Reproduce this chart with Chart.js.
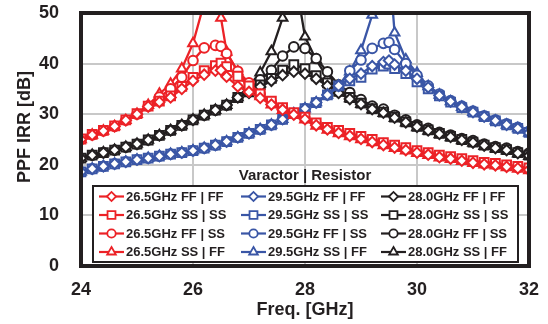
<!DOCTYPE html>
<html><head><meta charset="utf-8">
<script src="https://cdn.jsdelivr.net/npm/chart.js@4.4.1/dist/chart.umd.min.js"></script>
<style>html,body{margin:0;padding:0;background:#fff;}#wrap{width:548px;height:324px;}</style>
</head><body><div id="wrap"><canvas id="c" width="548" height="324"></canvas></div>
<script>
// ---------- DATA ----------
const freqRed   = [24.0,24.2,24.4,24.6,24.8,25.0,25.2,25.4,25.6,25.8,26.0,26.2,26.4,26.5,26.6,26.8,27.0,27.2,27.4,27.6,27.8,28.0,28.2,28.4,28.6,28.8,29.0,29.2,29.4,29.6,29.8,30.0,30.2,30.4,30.6,30.8,31.0,31.2,31.4,31.6,31.8,32.0];
const freqBlue  = [24.0,24.2,24.4,24.6,24.8,25.0,25.2,25.4,25.6,25.8,26.0,26.2,26.4,26.6,26.8,27.0,27.2,27.4,27.6,27.8,28.0,28.2,28.4,28.6,28.8,29.0,29.2,29.4,29.5,29.6,29.8,30.0,30.2,30.4,30.6,30.8,31.0,31.2,31.4,31.6,31.8,32.0];
const freqBlack = [24.0,24.2,24.4,24.6,24.8,25.0,25.2,25.4,25.6,25.8,26.0,26.2,26.4,26.6,26.8,27.0,27.2,27.4,27.6,27.8,28.0,28.2,28.4,28.6,28.8,29.0,29.2,29.4,29.6,29.8,30.0,30.2,30.4,30.6,30.8,31.0,31.2,31.4,31.6,31.8,32.0];

const red_FF_FF = [25.0,25.9,26.7,27.6,28.8,30.0,31.5,32.4,33.3,35.0,36.6,37.8,38.6,38.7,37.4,35.5,34.4,33.2,31.9,30.9,29.9,29.0,27.8,27.0,26.3,25.7,25.1,24.5,23.9,23.4,22.9,22.4,22.0,21.5,21.2,20.8,20.4,20.1,19.9,19.6,19.3,19.0];
const red_SS_SS = [25.1,26.0,26.8,27.7,28.9,30.1,31.6,32.6,33.6,35.5,37.3,38.6,39.6,40.1,39.4,37.5,35.6,34.0,32.6,31.3,30.3,29.4,28.3,27.4,26.8,26.2,25.6,25.0,24.4,23.9,23.4,22.8,22.4,21.9,21.6,21.2,20.8,20.5,20.3,20.0,19.7,19.4];
const red_FF_SS = [25.0,25.9,26.7,27.6,28.8,30.0,31.6,33.4,35.0,37.3,40.6,43.1,43.6,43.4,42.0,38.5,36.2,34.0,32.3,31.1,30.1,29.2,28.1,27.2,26.6,26.0,25.4,24.8,24.2,23.7,23.2,22.6,22.2,21.7,21.4,21.0,20.6,20.3,20.1,19.8,19.5,19.2];
const red_SS_FF = [25.0,25.9,26.7,27.6,28.8,30.0,31.8,34.0,36.0,39.0,44.0,52.0,56.0,49.0,42.3,38.4,35.6,33.5,31.9,30.8,29.8,28.9,27.7,26.9,26.2,25.6,25.0,24.4,23.8,23.3,22.8,22.3,21.9,21.4,21.1,20.7,20.3,20.0,19.8,19.5,19.2,18.9];

const blue_FF_FF = [18.6,19.2,19.7,20.2,20.6,21.0,21.3,21.7,22.1,22.4,22.8,23.3,23.9,24.6,25.4,26.2,27.0,27.9,29.0,30.1,31.1,32.3,33.8,35.6,37.0,38.0,39.5,40.3,40.6,39.8,38.6,37.0,35.3,33.7,32.5,31.4,30.4,29.5,28.7,27.9,27.2,26.3];
const blue_SS_SS = [18.6,19.2,19.7,20.2,20.6,21.0,21.3,21.7,22.1,22.4,22.8,23.3,23.9,24.6,25.4,26.2,27.0,27.9,29.0,30.1,31.1,32.3,33.8,35.6,36.6,37.3,38.9,39.5,39.9,39.0,38.0,36.4,35.0,33.6,32.4,31.3,30.4,29.5,28.7,27.9,27.2,26.4];
const blue_FF_SS = [18.6,19.2,19.7,20.2,20.6,21.0,21.3,21.7,22.1,22.4,22.8,23.3,23.9,24.6,25.4,26.2,27.0,27.9,29.0,30.1,31.1,32.3,33.8,35.6,38.6,40.7,43.0,44.0,44.2,42.8,40.0,37.7,35.6,34.0,32.7,31.6,30.6,29.7,28.9,28.1,27.4,26.6];
const blue_SS_FF = [18.6,19.2,19.7,20.2,20.6,21.0,21.3,21.7,22.1,22.4,22.8,23.3,23.9,24.6,25.4,26.2,27.0,27.9,29.0,30.1,31.1,32.3,33.8,35.6,38.4,42.6,49.6,58.0,60.0,46.1,40.8,38.1,35.5,33.8,32.5,31.4,30.4,29.5,28.7,27.9,27.2,26.3];

const black_FF_FF = [21.3,21.9,22.4,22.9,23.5,24.1,24.9,25.8,26.8,27.8,28.9,29.8,30.8,31.8,33.3,34.2,35.4,36.6,37.7,38.4,38.0,37.0,35.6,34.2,33.0,32.0,31.0,30.3,29.3,28.4,27.5,26.8,26.1,25.5,24.9,24.4,23.8,23.3,22.9,22.3,21.8];
const black_SS_SS = [21.3,21.9,22.4,22.9,23.5,24.1,24.9,25.8,26.8,27.8,28.9,29.8,30.8,31.8,33.3,34.4,35.8,37.1,38.7,39.8,39.0,37.6,36.2,34.5,33.3,32.2,31.1,30.4,29.4,28.5,27.6,26.9,26.2,25.6,25.0,24.5,23.9,23.4,23.0,22.4,21.9];
const black_FF_SS = [21.3,21.9,22.4,22.9,23.5,24.1,24.9,25.8,26.8,27.8,28.9,29.8,30.8,31.8,33.3,35.0,36.8,38.7,41.5,43.3,43.0,41.0,38.4,35.8,34.3,32.9,31.6,31.0,29.8,28.9,27.9,27.2,26.4,25.9,25.2,24.8,24.1,23.6,23.3,22.6,22.3];
const black_SS_FF = [21.3,21.9,22.4,22.9,23.5,24.1,24.9,25.8,26.8,27.8,28.9,29.8,30.8,31.8,33.3,35.6,38.2,42.4,49.0,58.5,45.3,40.7,37.2,34.8,33.1,32.0,30.9,30.2,29.2,28.3,27.4,26.7,26.0,25.4,24.8,24.3,23.7,23.2,22.8,22.2,21.7];

const seriesLabels = [
  '26.5GHz FF | FF','26.5GHz SS | SS','26.5GHz FF | SS','26.5GHz SS | FF',
  '29.5GHz FF | FF','29.5GHz SS | SS','29.5GHz FF | SS','29.5GHz SS | FF',
  '28.0GHz FF | FF','28.0GHz SS | SS','28.0GHz FF | SS','28.0GHz SS | FF'
];
const xTicks = [24, 26, 28, 30, 32];
const yTicks = [0, 10, 20, 30, 40, 50];
const xTitle = 'Freq. [GHz]';
const yTitle = 'PPF IRR [dB]';
const legendTitle = 'Varactor | Resistor';

// ---------- STYLE ----------
const RED = '#ec2227', BLUE = '#3a56a6', BLACK = '#231f20';
const styles = [
  ['rectRot', 5.2], ['rect', 6.2], ['circle', 4.8], ['triangle', 5.6]
];
const FONT = "'Liberation Sans', Arial, sans-serif";
Chart.defaults.font.family = FONT;
Chart.defaults.color = BLACK;

const groups = [
  {freq: freqRed,   color: RED,   vals: [red_FF_FF, red_SS_SS, red_FF_SS, red_SS_FF]},
  {freq: freqBlue,  color: BLUE,  vals: [blue_FF_FF, blue_SS_SS, blue_FF_SS, blue_SS_FF]},
  {freq: freqBlack, color: BLACK, vals: [black_FF_FF, black_SS_SS, black_FF_SS, black_SS_FF]}
];
const datasets = [];
groups.forEach((g, gi) => {
  g.vals.forEach((v, si) => {
    datasets.push({
      label: seriesLabels[gi * 4 + si],
      data: g.freq.map((f, i) => ({x: f, y: v[i]})),
      borderColor: g.color,
      backgroundColor: '#ffffff',
      borderWidth: 2.3,
      pointStyle: styles[si][0],
      pointRadius: styles[si][1],
      pointBorderWidth: 2,
      pointBackgroundColor: '#ffffff',
      pointBorderColor: g.color,
      tension: 0
    });
  });
});

const decor = {
  id: 'decor',
  afterDatasetsDraw(chart) {
    const {ctx, chartArea: a} = chart;
    ctx.save();
    // frame
    ctx.strokeStyle = BLACK; ctx.lineWidth = 4;
    ctx.strokeRect(a.left, a.top, a.right - a.left, a.bottom - a.top);
    // y title
    ctx.save();
    ctx.font = 'bold 18px ' + FONT;
    ctx.fillStyle = BLACK;
    ctx.translate(25, 127); ctx.rotate(-Math.PI / 2);
    ctx.textAlign = 'center'; ctx.textBaseline = 'middle';
    ctx.fillText(yTitle, 0, 0);
    ctx.restore();
    // legend title
    ctx.font = 'bold 15px ' + FONT;
    ctx.fillStyle = BLACK; ctx.textAlign = 'center'; ctx.textBaseline = 'middle';
    ctx.fillText(legendTitle, 305, 176);
    // legend box
    ctx.fillStyle = '#ffffff';
    ctx.fillRect(93, 186, 425, 76);
    ctx.lineWidth = 2; ctx.strokeStyle = BLACK;
    ctx.strokeRect(93, 186, 425, 76);
    const colX = [99, 241, 381];
    const rowY = [196.5, 215, 233.5, 252];
    ctx.font = 'bold 13px ' + FONT;
    ctx.textAlign = 'left';
    datasets.forEach((d, i) => {
      const c = Math.floor(i / 4), r = i % 4;
      const x0 = colX[c], y0 = rowY[r];
      ctx.strokeStyle = d.borderColor; ctx.lineWidth = 2.2;
      ctx.beginPath(); ctx.moveTo(x0, y0); ctx.lineTo(x0 + 25, y0); ctx.stroke();
      ctx.fillStyle = '#ffffff'; ctx.strokeStyle = d.borderColor; ctx.lineWidth = 1.8;
      Chart.helpers.drawPoint(ctx, {pointStyle: d.pointStyle, radius: d.pointRadius - 0.6, borderWidth: 1.8, rotation: 0}, x0 + 12.5, y0);
      ctx.fillStyle = BLACK;
      ctx.fillText(d.label, x0 + 27, y0 + 0.5);
    });
    ctx.restore();
  }
};

new Chart(document.getElementById('c'), {
  type: 'line',
  data: {datasets},
  plugins: [decor],
  options: {
    responsive: false, devicePixelRatio: 1, animation: false,
    layout: {padding: {top: 13, right: 19, left: 0, bottom: 0}},
    plugins: {legend: {display: false}, tooltip: {enabled: false}},
    scales: {
      x: {
        type: 'linear', min: 24, max: 32,
        afterBuildTicks: s => { s.ticks = xTicks.map(v => ({value: v})); },
        afterFit: s => { s.height = 58; s.paddingLeft = 0; s.paddingRight = 0; },
        grid: {color: '#c8c8c8', lineWidth: 2, drawTicks: false},
        border: {display: false},
        ticks: {font: {size: 18, weight: 'bold'}, padding: 13, color: BLACK, maxRotation: 0},
        title: {display: true, text: xTitle, font: {size: 18, weight: 'bold'}, color: BLACK, padding: {top: 0, bottom: 3}}
      },
      y: {
        min: 0, max: 50,
        afterBuildTicks: s => { s.ticks = yTicks.map(v => ({value: v})); },
        afterFit: s => { s.width = 81; s.paddingTop = 0; s.paddingBottom = 0; },
        grid: {color: '#c8c8c8', lineWidth: 2, drawTicks: false},
        border: {display: false},
        ticks: {font: {size: 18, weight: 'bold'}, padding: 22, color: BLACK}
      }
    }
  }
});
</script></body></html>
